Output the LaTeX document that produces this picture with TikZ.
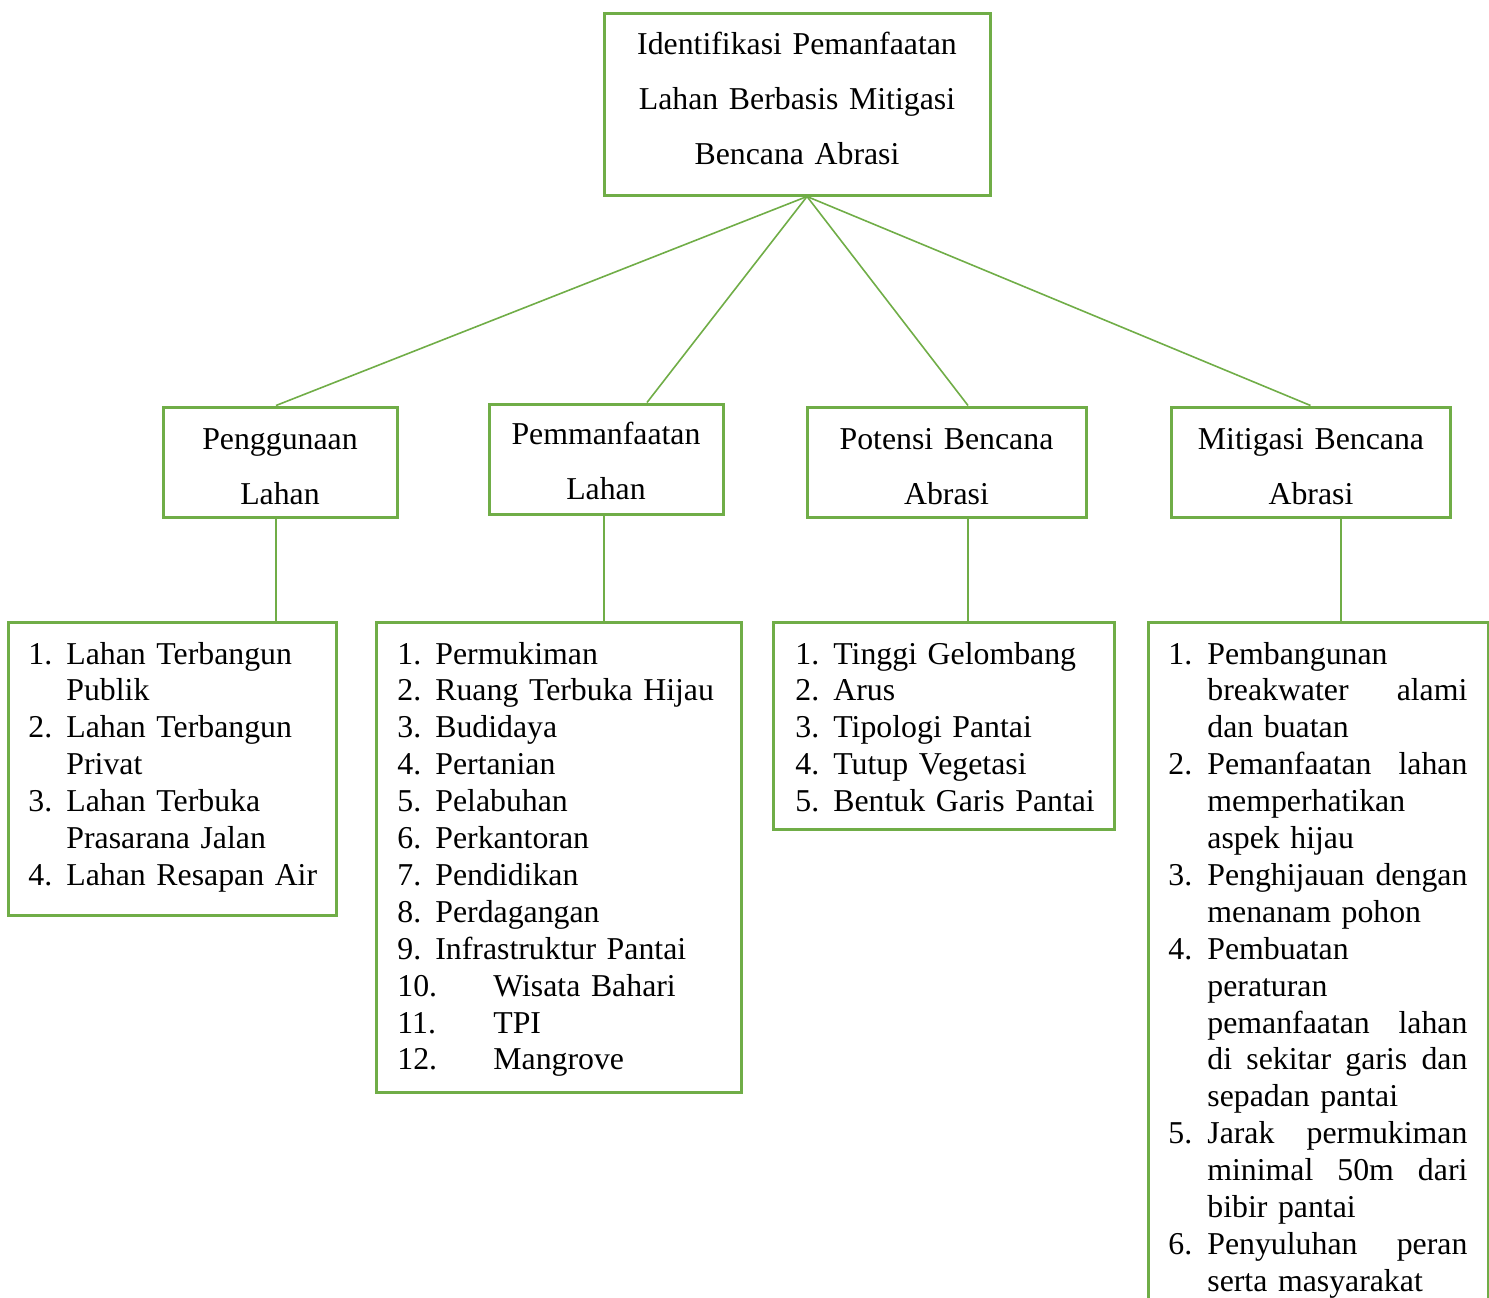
\documentclass[tikz,border=0pt]{standalone}
\usepackage{fontspec}
\setmainfont[WordSpace=0.85]{Liberation Serif}
\definecolor{gr}{HTML}{70AD47}
\newcommand\lnum[2][19pt]{\makebox[#1][l]{#2}}
\newcommand\lcont{\hspace*{19pt}}
\newcommand\dcont{\hspace*{19.5pt}}
\newcommand\jline[1]{\hbox to 130pt{#1}}
\begin{document}
\begin{tikzpicture}[x=0.5pt,y=-0.5pt,
  box/.style={draw=gr, line width=1.5pt, rectangle, inner sep=0pt},
  conn/.style={draw=gr, line width=0.8pt},
  txt/.style={inner sep=0pt, font=\fontsize{15.9}{18.45}\selectfont, anchor=base west, text width=200pt},
  hd/.style={inner sep=0pt, font=\fontsize{15.9}{27.6}\selectfont, anchor=base, text width=185pt, execute at begin node=\centering}]
\useasboundingbox (0,0) rectangle (1489,1297);
% boxes
\node[box, minimum width=193pt, minimum height=91pt] (top) at (797,104) {};
\node[box, minimum width=117pt, minimum height=55pt] (pg) at (280,462) {};
\node[box, minimum width=117pt, minimum height=55pt] (pm) at (606,459) {};
\node[box, minimum width=139.5pt, minimum height=55pt] (po) at (946.5,462) {};
\node[box, minimum width=139.5pt, minimum height=55pt] (mi) at (1310.5,462) {};
\node[box, minimum width=164pt, minimum height=146.5pt] (la) at (172,768.5) {};
\node[box, minimum width=182.5pt, minimum height=235pt] (lb) at (558.5,857) {};
\node[box, minimum width=170.5pt, minimum height=103.5pt] (lc) at (943.5,725.5) {};
\node[box, minimum width=170pt, minimum height=349pt] (ld) at (1318,971) {};
% header texts
\node[hd] (ttop) at (797,54) {Identifikasi Pemanfaatan\\Lahan Berbasis Mitigasi\\Bencana Abrasi};
\node[hd] (tpg) at (280,449) {Penggunaan\\Lahan};
\node[hd] (tpm) at (606,444) {Pemmanfaatan\\Lahan};
\node[hd] (tpo) at (946.5,449) {Potensi Bencana\\Abrasi};
\node[hd] (tmi) at (1311,449) {Mitigasi Bencana\\Abrasi};
% list texts
\node[txt] (xa) at (28,664) {\lnum{1.}Lahan Terbangun\\
\lcont Publik\\
\lnum{2.}Lahan Terbangun\\
\lcont Privat\\
\lnum{3.}Lahan Terbuka\\
\lcont Prasarana Jalan\\
\lnum{4.}Lahan Resapan Air};
\node[txt] (xb) at (397,664) {\lnum{1.}Permukiman\\
\lnum{2.}Ruang Terbuka Hijau\\
\lnum{3.}Budidaya\\
\lnum{4.}Pertanian\\
\lnum{5.}Pelabuhan\\
\lnum{6.}Perkantoran\\
\lnum{7.}Pendidikan\\
\lnum{8.}Perdagangan\\
\lnum{9.}Infrastruktur Pantai\\
\lnum[48pt]{10.}Wisata Bahari\\
\lnum[48pt]{11.}TPI\\
\lnum[48pt]{12.}Mangrove};
\node[txt] (xc) at (795,664) {\lnum{1.}Tinggi Gelombang\\
\lnum{2.}Arus\\
\lnum{3.}Tipologi Pantai\\
\lnum{4.}Tutup Vegetasi\\
\lnum{5.}Bentuk Garis Pantai};
\node[txt, text width=152pt] (xd) at (1168,664) {\lnum[19.5pt]{1.}Pembangunan\\
\dcont\jline{breakwater\hfill alami}\\
\dcont dan buatan\\
\lnum[19.5pt]{2.}\jline{Pemanfaatan\hfill lahan}\\
\dcont memperhatikan\\
\dcont aspek hijau\\
\lnum[19.5pt]{3.}\jline{Penghijauan\hfill dengan}\\
\dcont menanam pohon\\
\lnum[19.5pt]{4.}Pembuatan\\
\dcont peraturan\\
\dcont\jline{pemanfaatan\hfill lahan}\\
\dcont\jline{di\hfill sekitar\hfill garis\hfill dan}\\
\dcont sepadan pantai\\
\lnum[19.5pt]{5.}\jline{Jarak\hfill permukiman}\\
\dcont\jline{minimal\hfill 50m\hfill dari}\\
\dcont bibir pantai\\
\lnum[19.5pt]{6.}\jline{Penyuluhan\hfill peran}\\
\dcont serta masyarakat};
% connectors
\draw[conn] ([xshift=5pt]top.south) -- ([xshift=-2pt]pg.north);
\draw[conn] ([xshift=5pt]top.south) -- ([xshift=20.5pt]pm.north);
\draw[conn] ([xshift=5pt]top.south) -- ([xshift=10.75pt]po.north);
\draw[conn] ([xshift=5pt]top.south) -- (mi.north);
\draw[conn] ([xshift=-2pt]pg.south) -- ([xshift=-2pt]pg.south |- la.north);
\draw[conn] ([xshift=-1pt]pm.south) -- ([xshift=-1pt]pm.south |- lb.north);
\draw[conn] ([xshift=10.75pt]po.south) -- ([xshift=10.75pt]po.south |- lc.north);
\draw[conn] ([xshift=15.25pt]mi.south) -- ([xshift=15.25pt]mi.south |- ld.north);
\end{tikzpicture}
\end{document}
